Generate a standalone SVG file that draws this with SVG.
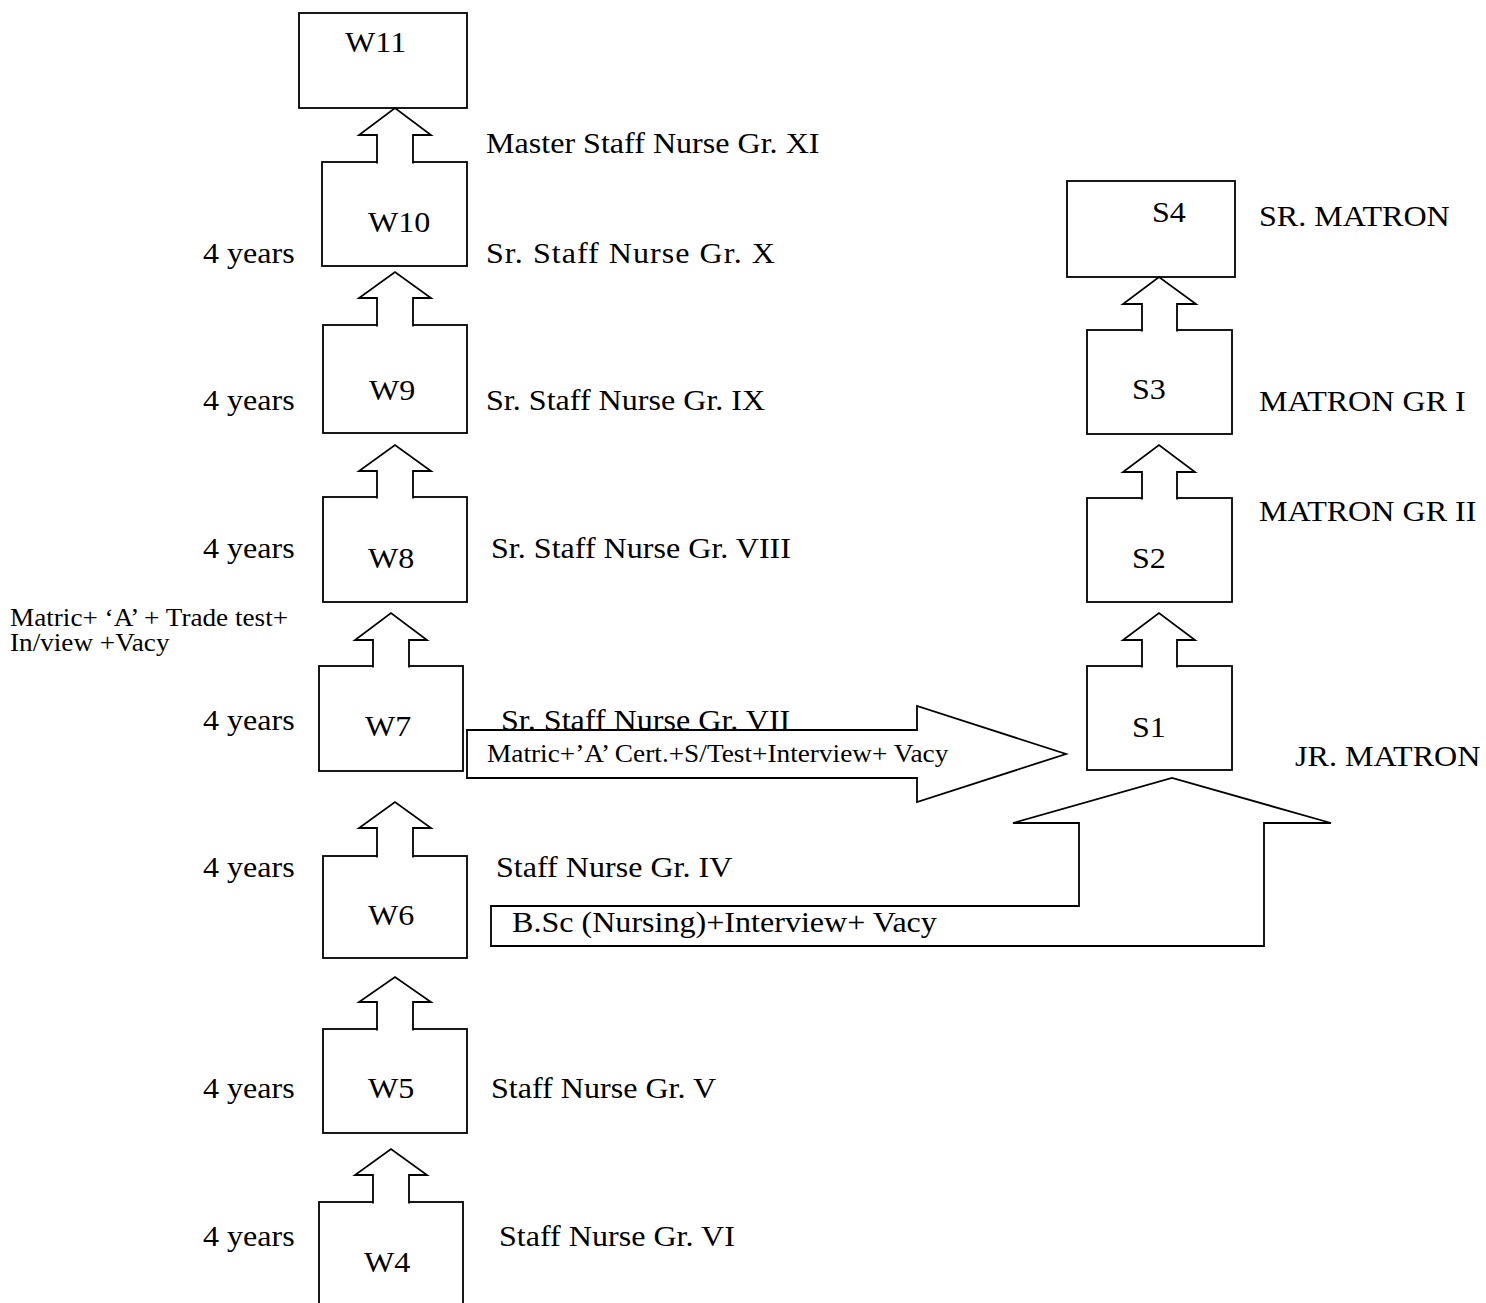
<svg xmlns="http://www.w3.org/2000/svg" width="1486" height="1303" viewBox="0 0 1486 1303">
<style>
.box{fill:#fff;stroke:#000;stroke-width:1.8}
.arr{fill:#fff;stroke:#000;stroke-width:1.8;stroke-linejoin:miter}
.t{font-family:"Liberation Serif","Times New Roman",serif;font-size:30px;fill:#000}
.s{font-family:"Liberation Serif","Times New Roman",serif;font-size:24.5px;fill:#000}
</style>
<rect width="1486" height="1303" fill="#fff"/>
<g id="connectors">
<path class="arr" d="M467,730 H917 V706 L1066,754 L917,802 V778 H467 Z"/>
<path class="arr" d="M491,906 H1079 V823 H1013 L1172,778 L1331,823 H1264 V946 H491 Z"/>
</g>
<g id="W11"><rect class="box" x="299" y="13" width="168" height="95"/>
<text class="t" transform="translate(345,52) scale(1.07,1)">W11</text></g>
<g id="W10"><rect class="box" x="322" y="162" width="145" height="104"/>
<text class="t" transform="translate(368,232) scale(1.07,1)">W10</text>
<text class="t" transform="translate(486,153) scale(1.07,1)">Master Staff Nurse Gr. XI</text>
<text class="t" transform="translate(203,263) scale(1.07,1)">4 years</text>
<text class="t" transform="translate(486,263) scale(1.07,1)" textLength="270" lengthAdjust="spacing">Sr. Staff Nurse Gr. X</text></g>
<g id="W9"><rect class="box" x="323" y="325" width="144" height="108"/>
<text class="t" transform="translate(369,400) scale(1.07,1)">W9</text>
<text class="t" transform="translate(203,410) scale(1.07,1)">4 years</text>
<text class="t" transform="translate(486,410) scale(1.07,1)">Sr. Staff Nurse Gr. IX</text></g>
<g id="W8"><rect class="box" x="323" y="497" width="144" height="105"/>
<text class="t" transform="translate(368,568) scale(1.07,1)">W8</text>
<text class="t" transform="translate(203,558) scale(1.07,1)">4 years</text>
<text class="t" transform="translate(491,558) scale(1.07,1)">Sr. Staff Nurse Gr. VIII</text>
<text class="s" transform="translate(10,626) scale(1.11,1)">Matric+ ‘A’ + Trade test+</text>
<text class="s" transform="translate(10,651) scale(1.11,1)">In/view +Vacy</text></g>
<g id="W7"><rect class="box" x="319" y="666" width="144" height="105"/>
<text class="t" transform="translate(365,736) scale(1.07,1)">W7</text>
<text class="t" transform="translate(203,730) scale(1.07,1)">4 years</text>
<text class="t" transform="translate(501,730) scale(1.07,1)">Sr. Staff Nurse Gr. VII</text>
<text class="s" transform="translate(487,762) scale(1.115,1)">Matric+’A’ Cert.+S/Test+Interview+ Vacy</text></g>
<g id="W6"><rect class="box" x="323" y="856" width="144" height="102"/>
<text class="t" transform="translate(368,925) scale(1.07,1)">W6</text>
<text class="t" transform="translate(203,877) scale(1.07,1)">4 years</text>
<text class="t" transform="translate(496,877) scale(1.07,1)">Staff Nurse Gr. IV</text>
<text class="t" transform="translate(512,932) scale(1.07,1)">B.Sc (Nursing)+Interview+ Vacy</text></g>
<g id="W5"><rect class="box" x="323" y="1029" width="144" height="104"/>
<text class="t" transform="translate(368,1098) scale(1.07,1)">W5</text>
<text class="t" transform="translate(203,1098) scale(1.07,1)">4 years</text>
<text class="t" transform="translate(491,1098) scale(1.07,1)">Staff Nurse Gr. V</text></g>
<g id="W4"><rect class="box" x="319" y="1202" width="144" height="130"/>
<text class="t" transform="translate(364,1272) scale(1.07,1)">W4</text>
<text class="t" transform="translate(203,1246) scale(1.07,1)">4 years</text>
<text class="t" transform="translate(499,1246) scale(1.07,1)">Staff Nurse Gr. VI</text></g>
<g id="S4"><rect class="box" x="1067" y="181" width="168" height="96"/>
<text class="t" transform="translate(1152,222) scale(1.07,1)">S4</text>
<text class="t" transform="translate(1259,226) scale(1.07,1)">SR. MATRON</text></g>
<g id="S3"><rect class="box" x="1087" y="330" width="145" height="104"/>
<text class="t" transform="translate(1132,399) scale(1.07,1)">S3</text>
<text class="t" transform="translate(1259,411) scale(1.07,1)">MATRON GR I</text></g>
<g id="S2"><rect class="box" x="1087" y="498" width="145" height="104"/>
<text class="t" transform="translate(1132,568) scale(1.07,1)">S2</text>
<text class="t" transform="translate(1259,521) scale(1.07,1)">MATRON GR II</text></g>
<g id="S1"><rect class="box" x="1087" y="666" width="145" height="104"/>
<text class="t" transform="translate(1132,737) scale(1.07,1)">S1</text>
<text class="t" transform="translate(1295,766) scale(1.07,1)">JR. MATRON</text></g>
<g id="up-arrows">
<path class="arr" d="M377,163.6 V135 H359 L395,108 L431,135 H413 V163.6"/>
<path class="arr" d="M377,326.6 V298 H359 L395,272 L431,298 H413 V326.6"/>
<path class="arr" d="M377,498.6 V471 H359 L395,445 L431,471 H413 V498.6"/>
<path class="arr" d="M373,667.6 V640 H355 L391,613 L427,640 H409 V667.6"/>
<path class="arr" d="M377,857.6 V828 H359 L395,802 L431,828 H413 V857.6"/>
<path class="arr" d="M377,1030.6 V1002 H359 L395,977 L431,1002 H413 V1030.6"/>
<path class="arr" d="M373,1203.6 V1175 H355 L391,1149 L427,1175 H409 V1203.6"/>
<path class="arr" d="M1142,331.6 V304 H1123 L1159,277 L1196,304 H1177 V331.6"/>
<path class="arr" d="M1142,499.6 V472 H1123 L1159,445 L1195,472 H1177 V499.6"/>
<path class="arr" d="M1142,667.6 V640 H1123 L1159,613 L1195,640 H1177 V667.6"/>
</g>
</svg>
